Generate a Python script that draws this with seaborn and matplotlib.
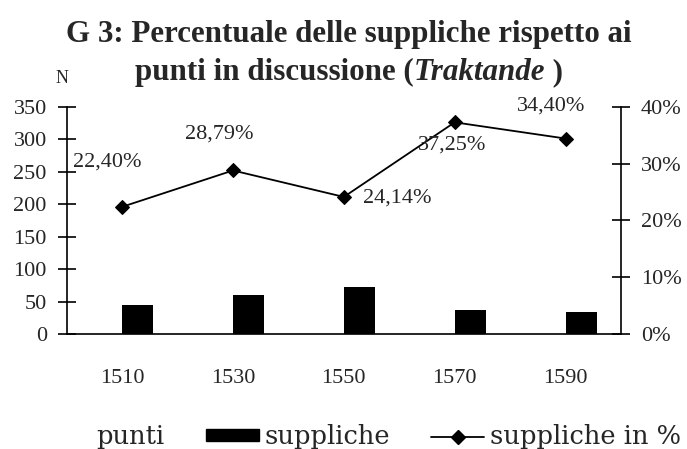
import numpy as np
import pandas as pd
import matplotlib
matplotlib.use('Agg')
import matplotlib.pyplot as plt
import seaborn as sns
from matplotlib.patches import Patch
from matplotlib.lines import Line2D

# dati
years = ['1510', '1530', '1550', '1570', '1590']
suppliche = [45, 60, 72, 38, 35]
punti = [201, 208, 298, 102, 102]          # barre bianche (non visibili)
pct = [22.40, 28.79, 24.14, 37.25, 34.40]  # suppliche in %
pct_labels = ['22,40%', '28,79%', '24,14%', '37,25%', '34,40%']
# spostamento delle etichette rispetto al punto (pixel)
label_offsets = [(-15, 45), (-14, 36), (53, -1), (-3, -23), (-14, 32)]

sns.set_style('white')
plt.rcParams['font.family'] = ['Liberation Serif', 'DejaVu Serif']

df = pd.DataFrame({
    'anno': years * 2,
    'serie': ['punti'] * len(years) + ['suppliche'] * len(years),
    'N': punti + suppliche,
})

fig = plt.figure(figsize=(6.87, 4.49), dpi=100)
ax = fig.add_axes([0.0971, 0.2555, 0.8068, 0.5069])

sns.barplot(data=df, x='anno', y='N', hue='serie',
            palette={'punti': 'white', 'suppliche': 'black'},
            width=0.56, saturation=1, linewidth=0, legend=False, ax=ax)

ax2 = ax.twinx()
sns.lineplot(x=np.arange(len(years)), y=pct, ax=ax2, color='black',
             marker='D', markersize=6.8, markeredgecolor='black',
             linewidth=1.3, legend=False)

for i, (v, lab) in enumerate(zip(pct, pct_labels)):
    ax2.annotate(lab, (i, v), xytext=label_offsets[i], textcoords='offset pixels',
                 ha='center', va='center', fontsize=16)

ax.set_xlim(-0.5, len(years) - 0.5)
ax.set_ylim(0, 350)
ax.set_yticks(range(0, 351, 50))
ax2.set_ylim(0, 40)
ax2.set_yticks(range(0, 41, 10))
ax2.set_yticklabels([f'{v}%' for v in range(0, 41, 10)])
ax.set_xlabel('')
ax.set_ylabel('')
ax2.set_ylabel('')

ax.set_xticks(np.arange(-0.5, len(years), 1), minor=True)
ax.tick_params(axis='x', which='major', length=0, pad=25, labelsize=16)
ax.tick_params(axis='x', which='minor', direction='inout', length=12, width=1.2, color='black')
ax.tick_params(axis='y', direction='inout', length=12.7, width=1.2, pad=8,
               labelsize=16, color='black', left=True)
ax2.tick_params(axis='y', direction='inout', length=12.7, width=1.2, pad=8,
                labelsize=16, color='black', right=True)

for a in (ax, ax2):
    a.spines['top'].set_visible(False)
    for s in a.spines.values():
        s.set_color('black')
        s.set_linewidth(1.2)
ax.spines['right'].set_visible(False)
ax2.spines['left'].set_visible(False)
ax2.spines['bottom'].set_visible(False)

# titolo su due righe, con Traktande in corsivo
W = fig.get_figwidth() * fig.dpi


def place_line(pieces, xc, y):
    texts = [fig.text(0, y, s, fontweight='bold', fontstyle=st, fontsize=22.3,
                      va='baseline') for s, st in pieces]
    fig.canvas.draw()
    r = fig.canvas.get_renderer()
    widths = [t.get_window_extent(r).width for t in texts]
    x = xc * W - sum(widths) / 2
    for t, w in zip(texts, widths):
        t.set_x(x / W)
        x += w


place_line([('G 3: Percentuale delle suppliche rispetto ai', 'normal')], 0.508, 0.9065)
place_line([('punti in discussione (', 'normal'), ('Traktande', 'italic'), (' )', 'normal')],
           0.508, 0.8218)

fig.text(0.0902, 0.815, 'N', ha='center', va='baseline', fontsize=13)

handles = [
    Patch(facecolor='white', edgecolor='none', label='punti'),
    Patch(facecolor='black', edgecolor='black', label='suppliche'),
    Line2D([0], [0], color='black', marker='D', markersize=6.8, linewidth=1.3,
           label='suppliche in %'),
]
fig.legend(handles=handles, loc='center', bbox_to_anchor=(0.523, 0.027),
           bbox_transform=fig.transFigure, ncol=3, frameon=False,
           prop={'family': 'DejaVu Serif', 'size': 18.5}, handlelength=2.06,
           handleheight=0.35, handletextpad=0.22, columnspacing=1.6,
           borderaxespad=0, borderpad=0)

fig.savefig('out.png', dpi=100)
